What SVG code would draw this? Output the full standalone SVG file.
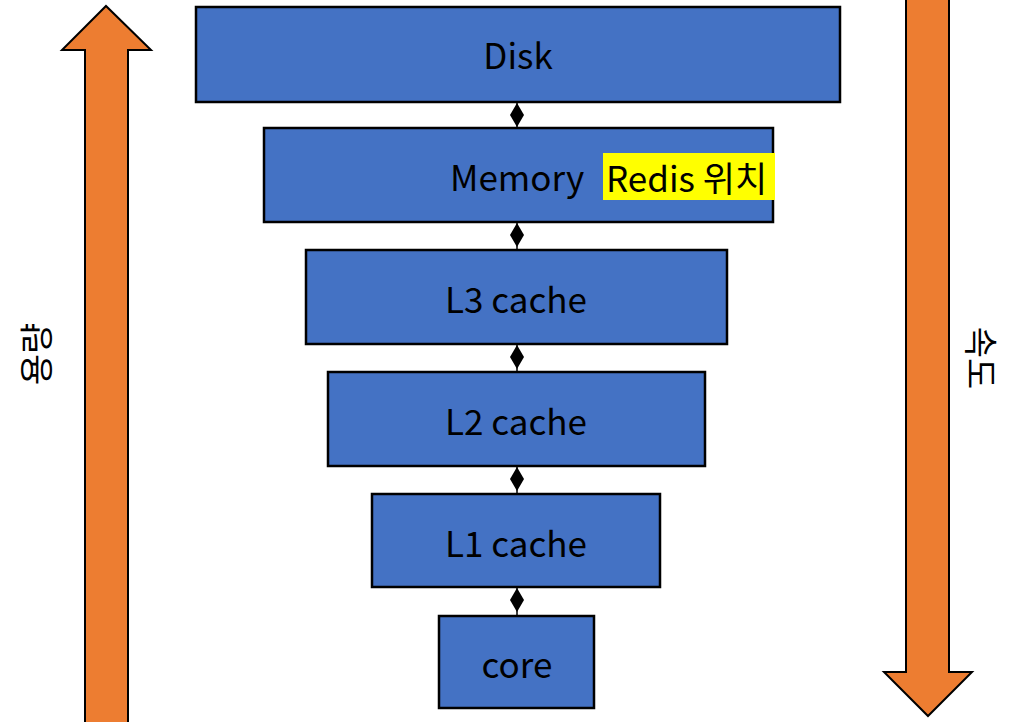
<svg xmlns="http://www.w3.org/2000/svg" width="1024" height="722" viewBox="0 0 1024 722">
<style>
.box{fill:#4472C4;stroke:#000;stroke-width:2.5}
.lbl{font-family:"Noto Sans CJK KR","Noto Sans",sans-serif;font-size:35px;fill:#000}
.vl{font-family:"Noto Sans CJK KR","Noto Sans",sans-serif;font-size:34px;fill:#000}
.arr{fill:#ED7D31;stroke:#000;stroke-width:2}
.conn{stroke:#000;stroke-width:1.5;fill:none}
</style>
<defs>
<marker id="dia" markerUnits="userSpaceOnUse" markerWidth="16" markerHeight="28" viewBox="-8 0 16 28" refX="0" refY="1" orient="0" overflow="visible">
<path d="M0,1 L7,13 L0,25 L-7,13 Z" fill="#000"/>
</marker>
</defs>
<rect width="1024" height="722" fill="#fff"/>
<g id="capacity-arrow">
<path class="arr" d="M85,723 L85,50 L62,50 L106,6 L151,50 L128,50 L128,723"/>
<text class="vl" transform="translate(49,354) rotate(-90)" text-anchor="middle">용량</text>
</g>
<g id="speed-arrow">
<path class="arr" d="M906,-2 L906,672 L884,672 L928,716 L972,672 L949,672 L949,-2"/>
<text class="vl" transform="translate(968,358) rotate(90)" text-anchor="middle">속도</text>
</g>
<g id="disk"><rect class="box" x="196" y="7" width="644" height="95"/><text class="lbl" x="518" y="69" text-anchor="middle">Disk</text></g>
<g id="memory"><rect class="box" x="264" y="128" width="509" height="94"/>
<rect x="603" y="153" width="172" height="47" fill="#FFFF00"/>
<text class="lbl" x="450" y="191">Memory</text><text class="lbl" x="606" y="192">Redis 위치</text></g>
<g id="l3"><rect class="box" x="306" y="250" width="421" height="94"/><text class="lbl" x="516" y="313" text-anchor="middle">L3 cache</text></g>
<g id="l2"><rect class="box" x="328" y="372" width="377" height="94"/><text class="lbl" x="516" y="435" text-anchor="middle">L2 cache</text></g>
<g id="l1"><rect class="box" x="372" y="494" width="288" height="93"/><text class="lbl" x="516" y="557" text-anchor="middle">L1 cache</text></g>
<g id="core"><rect class="box" x="439" y="616" width="155" height="92"/><text class="lbl" x="517" y="678" text-anchor="middle">core</text></g>
<g id="connectors">
<line class="conn" x1="517" y1="103" x2="517" y2="127" marker-start="url(#dia)"/>
<line class="conn" x1="517" y1="223" x2="517" y2="249" marker-start="url(#dia)"/>
<line class="conn" x1="517" y1="345" x2="517" y2="371" marker-start="url(#dia)"/>
<line class="conn" x1="517" y1="467" x2="517" y2="493" marker-start="url(#dia)"/>
<line class="conn" x1="517" y1="588" x2="517" y2="615" marker-start="url(#dia)"/>
</g>
</svg>
